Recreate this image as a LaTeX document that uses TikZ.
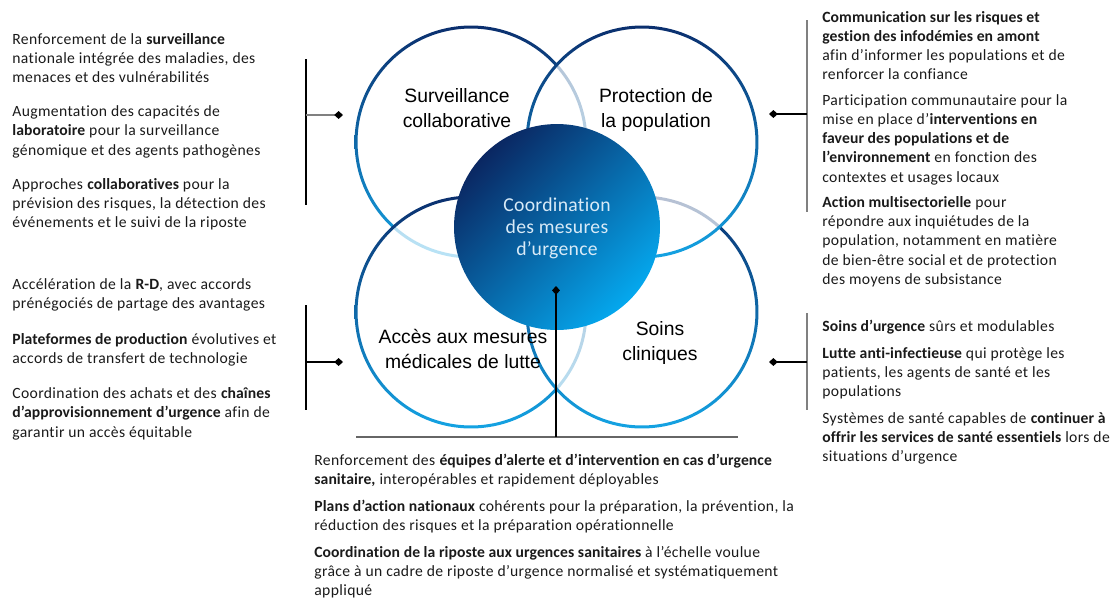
\documentclass[tikz,border=0pt]{standalone}
\usepackage{fontspec}
\setmainfont{Carlito}[Ligatures=NoCommon, LetterSpace=2.4, BoldFeatures={LetterSpace=0.6}]
\newfontfamily\labelfont{Liberation Sans}
\newfontfamily\corefont{Carlito}[Ligatures=NoCommon, LetterSpace=1.5]
\usetikzlibrary{arrows.meta,positioning,calc}

\definecolor{navy}{HTML}{0B2F6E}
\definecolor{ringmid}{HTML}{1570B8}
\definecolor{skyblue}{HTML}{14A3E3}
\definecolor{coredark}{HTML}{0A2762}
\definecolor{coremid}{HTML}{0870BE}
\definecolor{corelight}{HTML}{05A8EE}
\definecolor{corefont}{HTML}{D8EAF7}
\definecolor{inkgrey}{HTML}{1A1A1A}

\tikzset{
  ring/.style={top color=navy, middle color=ringmid, bottom color=skyblue, even odd rule},
  veil/.style={fill=white, fill opacity=0.7},
  domain label/.style={font=\labelfont\fontsize{11}{14.2}\selectfont, align=center, inner sep=0pt},
  core label/.style={font=\corefont\fontsize{11.2}{12.5}\selectfont, text=corefont, align=center, inner sep=0pt},
  notes/.style={font=\fontsize{8.9}{10.9}\selectfont, text=inkgrey, align=left, anchor=north west, inner sep=0pt},
  bracket/.style={line width=0.6pt},
  lead/.style={line width=0.6pt, -{Diamond[length=5pt,width=4.5pt,color=black]}},
}

\begin{document}
\begin{tikzpicture}[x=0.02cm, y=-0.02cm]
\useasboundingbox (0,0) rectangle (1117,600);

% Circle centres
\coordinate (tl) at (471,142);
\coordinate (tr) at (642,142);
\coordinate (bl) at (471,312);
\coordinate (br) at (642,312);
\coordinate (mid) at (557,227);

% Four rings, each one veiling the ones beneath
\foreach \c in {tl,bl,br,tr}{
  \fill[veil] (\c) circle (2.3cm);
  \shade[ring] (\c) circle (2.33cm) (\c) circle (2.27cm);
}

% Core disc
\shade[top color=coredark, middle color=coremid, bottom color=corelight, shading angle=45] (mid) circle (2.06cm);

% Labels
\node[domain label] (surv) at (457,108) {Surveillance\\collaborative};
\node[domain label] (prot) at (656,110) {Protection de\\la population};
\node[domain label] (acces) at (463,349) {Accès aux mesures\\médicales de lutte};
\node[domain label] (soins) at (660,343) {Soins\\cliniques};
\node[core label] (core) at (557,228) {Coordination\\des mesures\\d’urgence};

% Left brackets
\coordinate (lt top) at (306,59);
\coordinate (lt bot) at (306,205);
\coordinate (lt mid) at (306,115);
\coordinate (lt dot) at (343,115);
\draw[bracket] (lt top) -- (lt bot);
\draw[lead, gray] (lt mid) -- (lt dot);

\coordinate (lb top) at (306,305);
\coordinate (lb bot) at (306,410);
\coordinate (lb mid) at (306,362);
\coordinate (lb dot) at (343,362);
\draw[bracket] (lb top) -- (lb bot);
\draw[lead] (lb mid) -- (lb dot);

% Right brackets
\coordinate (rt top) at (807,20);
\coordinate (rt bot) at (807,212);
\coordinate (rt mid) at (807,114);
\coordinate (rt dot) at (769,114);
\draw[bracket, gray] (rt top) -- (rt bot);
\draw[lead] (rt mid) -- (rt dot);

\coordinate (rb top) at (807,313);
\coordinate (rb bot) at (807,410);
\coordinate (rb mid) at (807,362);
\coordinate (rb dot) at (769,362);
\draw[bracket, gray] (rb top) -- (rb bot);
\draw[lead] (rb mid) -- (rb dot);

% Bottom bracket
\coordinate (bt left) at (356,437);
\coordinate (bt right) at (738,437);
\coordinate (bt mid) at (556,437);
\coordinate (bt dot) at (556,286);
\draw[bracket, gray!80!black] (bt left) -- (bt right);
\draw[lead] (bt mid) -- (bt dot);

% Notes
\node[notes] (surv notes) at (12,33) {%
Renforcement de la \textbf{surveillance}\\
nationale intégrée des maladies, des\\
menaces et des vulnérabilités\\[0.3cm]
Augmentation des capacités de\\
\textbf{laboratoire} pour la surveillance\\
génomique et des agents pathogènes\\[0.3cm]
Approches \textbf{collaboratives} pour la\\
prévision des risques, la détection des\\
événements et le suivi de la riposte};

\node[notes] (acces notes) at (12,278) {%
Accélération de la \textbf{R-D}, avec accords\\
prénégociés de partage des avantages\\[0.33cm]
\textbf{Plateformes de production} évolutives et\\
accords de transfert de technologie\\[0.33cm]
Coordination des achats et des \textbf{chaînes}\\
\textbf{d’approvisionnement d’urgence} afin de\\
garantir un accès équitable};

\node[notes] (prot notes) at (822,11) {%
\textbf{Communication sur les risques et}\\
\textbf{gestion des infodémies en amont}\\
afin d’informer les populations et de\\
renforcer la confiance\\[0.13cm]
Participation communautaire pour la\\
mise en place d’\textbf{interventions en}\\
\textbf{faveur des populations et de}\\
\textbf{l’environnement} en fonction des\\
contextes et usages locaux\\[0.13cm]
\textbf{Action multisectorielle} pour\\
répondre aux inquiétudes de la\\
population, notamment en matière\\
de bien-être social et de protection\\
des moyens de subsistance};

\node[notes] (soins notes) at (822,320) {%
\textbf{Soins d’urgence} sûrs et modulables\\[0.15cm]
\textbf{Lutte anti-infectieuse} qui protège les\\
patients, les agents de santé et les\\
populations\\[0.15cm]
Systèmes de santé capables de \textbf{continuer à}\\
\textbf{offrir les services de santé essentiels} lors de\\
situations d’urgence};

\node[notes] (core notes) at (314,454) {%
Renforcement des \textbf{équipes d’alerte et d’intervention en cas d’urgence}\\
\textbf{sanitaire,} interopérables et rapidement déployables\\[0.15cm]
\textbf{Plans d’action nationaux} cohérents pour la préparation, la prévention, la\\
réduction des risques et la préparation opérationnelle\\[0.15cm]
\textbf{Coordination de la riposte aux urgences sanitaires} à l'échelle voulue\\
grâce à un cadre de riposte d’urgence normalisé et systématiquement\\
appliqué};
\end{tikzpicture}
\end{document}
